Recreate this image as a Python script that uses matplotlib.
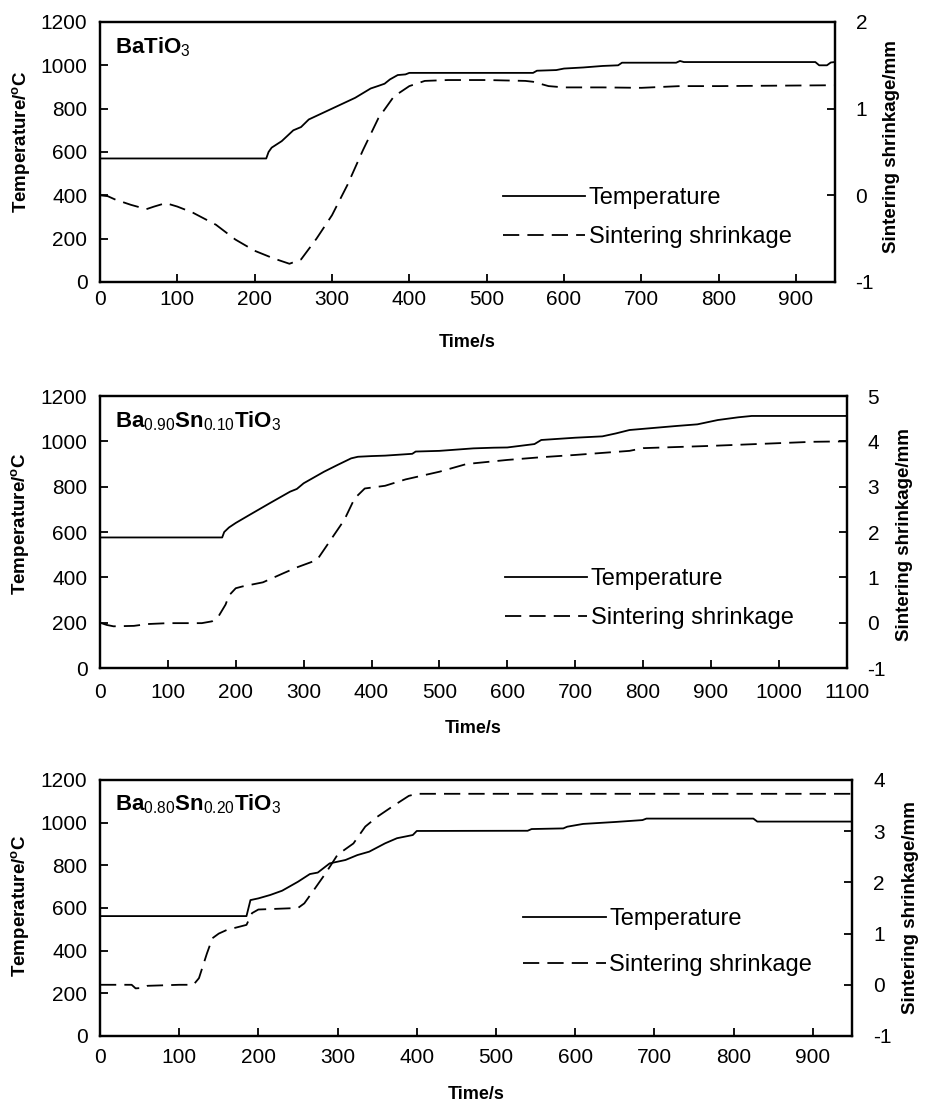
import matplotlib
matplotlib.use('Agg')
import matplotlib.pyplot as plt

plt.rcParams['font.family'] = ['Liberation Sans', 'DejaVu Sans']
plt.rcParams['mathtext.fontset'] = 'custom'
plt.rcParams['mathtext.rm'] = 'Liberation Sans'
plt.rcParams['mathtext.bf'] = 'Liberation Sans:bold'
plt.rcParams['mathtext.it'] = 'Liberation Sans:italic'
plt.rcParams['axes.linewidth'] = 1.6
plt.rcParams['axes.unicode_minus'] = False

# --- BaTiO3 ---
time_T1 = [0, 215, 218, 222, 235, 250, 260, 270, 300, 330, 350, 360, 368, 375, 385, 395, 400,
           560, 565, 590, 600, 625, 650, 670, 675, 745, 750, 755, 925, 930, 940, 945, 950]
temp_1 = [570, 570, 600, 620, 650, 700, 715, 750, 800, 850, 893, 905, 915, 935, 955, 958, 965,
          965, 975, 978, 985, 990, 997, 1000, 1012, 1012, 1020, 1015, 1015, 1000, 1000, 1013, 1015]
time_S1 = [0, 10, 20, 40, 60, 70, 85, 100, 120, 150, 175, 200, 225, 245, 260, 280, 300, 320,
           340, 360, 380, 400, 420, 450, 500, 550, 560, 580, 600, 650, 700, 750, 800, 950]
shrink_1 = [0.0, -0.01, -0.05, -0.11, -0.16, -0.13, -0.09, -0.13, -0.2, -0.34, -0.51, -0.64,
            -0.73, -0.79, -0.74, -0.5, -0.23, 0.12, 0.52, 0.89, 1.14, 1.26, 1.32, 1.33, 1.33,
            1.32, 1.31, 1.26, 1.245, 1.245, 1.24, 1.26, 1.26, 1.27]

# --- Ba0.90Sn0.10TiO3 ---
time_T2 = [0, 180, 183, 190, 200, 220, 250, 280, 290, 300, 330, 350, 370, 380, 400, 420, 460,
           465, 500, 550, 580, 600, 640, 650, 700, 740, 760, 780, 850, 880, 910, 940, 960, 1100]
temp_2 = [576, 576, 600, 620, 640, 675, 727, 778, 790, 815, 866, 896, 925, 932, 935, 937, 945,
          955, 958, 969, 972, 973, 988, 1006, 1016, 1022, 1035, 1050, 1068, 1075, 1094, 1106,
          1112, 1112]
time_S2 = [0, 10, 20, 50, 70, 100, 150, 165, 175, 185, 190, 200, 210, 240, 270, 290, 310, 320,
           340, 360, 375, 390, 420, 450, 500, 540, 600, 650, 700, 780, 800, 900, 1000, 1050, 1100]
shrink_2 = [0.0, -0.05, -0.08, -0.07, -0.03, -0.01, -0.01, 0.03, 0.15, 0.4, 0.6, 0.76, 0.8,
            0.89, 1.09, 1.22, 1.33, 1.39, 1.83, 2.27, 2.74, 2.96, 3.02, 3.16, 3.33, 3.5, 3.59,
            3.65, 3.7, 3.79, 3.85, 3.9, 3.96, 3.99, 4.0]

# --- Ba0.80Sn0.20TiO3 ---
time_T3 = [0, 185, 190, 200, 215, 230, 250, 265, 275, 290, 300, 310, 325, 340, 360, 375, 395,
           400, 540, 545, 585, 590, 610, 650, 685, 690, 825, 830, 950]
temp_3 = [562, 562, 637, 645, 661, 681, 723, 759, 766, 809, 817, 825, 848, 864, 903, 927, 942,
          961, 962, 970, 973, 981, 994, 1003, 1012, 1019, 1019, 1005, 1005]
time_S3 = [0, 40, 45, 55, 60, 100, 118, 125, 135, 142, 150, 160, 180, 185, 192, 200, 250, 258,
           270, 285, 300, 320, 335, 350, 370, 390, 400, 950]
shrink_3 = [0.0, 0.0, -0.07, -0.06, -0.02, 0.0, 0.0, 0.13, 0.61, 0.91, 1.0, 1.07, 1.15, 1.17,
            1.4, 1.47, 1.5, 1.59, 1.85, 2.18, 2.54, 2.76, 3.09, 3.28, 3.49, 3.69, 3.73, 3.73]

titles = [r'$\mathbf{BaTiO}_{\mathrm{3}}$',
          r'$\mathbf{Ba}_{\mathrm{0.90}}\mathbf{Sn}_{\mathrm{0.10}}\mathbf{TiO}_{\mathrm{3}}$',
          r'$\mathbf{Ba}_{\mathrm{0.80}}\mathbf{Sn}_{\mathrm{0.20}}\mathbf{TiO}_{\mathrm{3}}$']
xticks_short = list(range(0, 901, 100))
xticks_long = list(range(0, 1101, 100))

fig = plt.figure(figsize=(9.3, 11.04), dpi=100)


def draw_panel(rect, title, tT, temp, tS, shrink, xmax, xticks, s_lim, xpad, leg_anchor,
               leg_spacing, xlab_y, ylab_y, rlab_y):
    ax = fig.add_axes(rect)
    ax2 = ax.twinx()
    l1, = ax.plot(tT, temp, color='black', lw=1.3, label='Temperature')
    l2, = ax2.plot(tS, shrink, color='black', lw=1.3, ls=(0, (9, 4.5)),
                   label='Sintering shrinkage')

    ax.set_xlim(0, xmax)
    ax.set_ylim(0, 1200)
    ax.set_xticks(xticks)
    ax.set_yticks(range(0, 1201, 200))
    ax2.set_ylim(*s_lim)
    ax2.set_yticks(range(s_lim[0], s_lim[1] + 1))

    ax.tick_params(axis='x', direction='in', length=5.5, width=1.3, labelsize=15, pad=xpad)
    ax.tick_params(axis='y', direction='in', length=5.5, width=1.3, labelsize=15, pad=9)
    ax2.tick_params(axis='y', direction='in', length=5.5, width=1.3, labelsize=15, pad=15)

    ax.set_xlabel('Time/s', fontweight='bold', fontsize=13)
    ax.xaxis.set_label_coords(0.5, xlab_y)
    ax.set_ylabel(r'Temperature/$^{\mathbf{o}}$C', fontweight='bold', fontsize=13.5)
    ax.yaxis.set_label_coords(-0.092, ylab_y)
    ax2.set_ylabel('Sintering shrinkage/mm', fontweight='bold', fontsize=13.5)
    ax2.yaxis.set_label_coords(1.066, rlab_y)

    ax.text(0.02, 0.95, title, transform=ax.transAxes, fontsize=16, va='top', ha='left')

    ax2.legend([l1, l2], ['Temperature', 'Sintering shrinkage'], loc='upper left',
               bbox_to_anchor=leg_anchor, frameon=False, borderpad=0, borderaxespad=0,
               handlelength=3.5, handletextpad=0.15, labelspacing=leg_spacing,
               prop={'size': 17})
    return ax, ax2


draw_panel([0.1075, 0.7446, 0.790, 0.2355], titles[0], time_T1, temp_1, time_S1, shrink_1,
           950, xticks_short, (-1, 2), 6, (0.548, 0.366), 0.72, -0.2, 0.538, 0.52)
draw_panel([0.1075, 0.3949, 0.803, 0.2464], titles[1], time_T2, temp_2, time_S2, shrink_2,
           1100, xticks_long, (-1, 5), 11, (0.542, 0.368), 0.72, -0.19, 0.53, 0.49)
draw_panel([0.1075, 0.0616, 0.809, 0.2319], titles[2], time_T3, temp_3, time_S3, shrink_3,
           950, xticks_short, (-1, 4), 9, (0.5625, 0.5), 1.02, -0.195, 0.51, 0.5)

fig.savefig('out.png', dpi=100)
